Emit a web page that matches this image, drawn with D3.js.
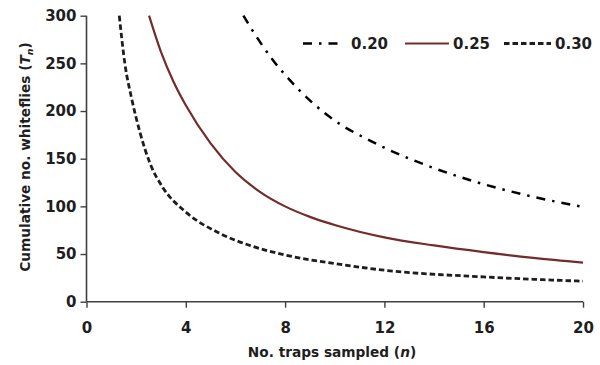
<!DOCTYPE html>
<html><head><meta charset="utf-8">
<script src="https://cdn.jsdelivr.net/npm/d3@7"></script>
<style>
body{margin:0;background:#fff;}
text{font-family:"DejaVu Sans",Verdana,sans-serif;font-weight:bold;fill:#1e1e1e;}
</style></head>
<body><svg id="c" width="600" height="365"></svg>
<script>
// ---- data ----
const xTicks = [0, 4, 8, 12, 16, 20];
const yTicks = [0, 50, 100, 150, 200, 250, 300];
const seriesNames = ["0.20", "0.25", "0.30"];
const n020 = [6.32, 7.0, 7.52, 8.0, 9.13, 10, 11.5, 12, 13.7, 15.9, 18, 20];
const t020 = [300, 272, 253, 238, 208, 190, 168, 161.5, 143, 124, 110, 99.5];
const n025 = [2.52, 3.0, 3.5, 4, 5, 6, 7, 8, 9, 10, 12, 14, 16, 18, 20];
const t025 = [300, 262, 231, 206, 166, 136, 115, 100, 89, 80.5, 67.5, 59, 52, 46, 41];
const n030 = [1.32, 1.55, 1.82, 2.15, 2.56, 3.07, 4, 5.35, 6.7, 8, 10, 12, 16, 20];
const t030 = [300, 249, 213, 178, 145, 120, 94, 72, 58, 49, 40, 33, 26, 21.5];

const svg = d3.select("#c");
const x = d3.scaleLinear().domain([0, 20]).range([86.5, 583]);
const y = d3.scaleLinear().domain([0, 300]).range([301.7, 15.7]);

const axisColor = "#404040";
const gx = svg.append("g").attr("transform", `translate(0,${y(0)})`)
  .call(d3.axisBottom(x).tickValues(xTicks).tickSize(6).tickPadding(15).tickFormat(d3.format("d")));
const gy = svg.append("g").attr("transform", `translate(${x(0)},0)`)
  .call(d3.axisLeft(y).tickValues(yTicks).tickSize(6).tickPadding(4).tickFormat(d3.format("d")));
[gx, gy].forEach(g => {
  g.select(".domain").attr("stroke", axisColor).attr("stroke-width", 1.6);
  g.selectAll(".tick line").attr("stroke", axisColor).attr("stroke-width", 1.4);
  g.selectAll(".tick text").attr("font-size", 15).attr("font-family", "DejaVu Sans").attr("font-weight", "bold").attr("fill", "#1e1e1e");
});
gx.select(".domain").attr("d", `M${x(0)},0H${x(20)}`);
gy.select(".domain").attr("d", `M0,${y(0)}V${y(300)}`);

const line = d3.line().x(d => x(d[0])).y(d => y(d[1])).curve(d3.curveMonotoneX);
const styles = {
  "0.20": {stroke: "#000", width: 2.5, dash: "9,7,2.5,7"},
  "0.25": {stroke: "#742c2a", width: 2.2, dash: null},
  "0.30": {stroke: "#1a1f1a", width: 2.8, dash: "5.5,3"}
};
const data = {
  "0.20": d3.zip(n020, t020),
  "0.25": d3.zip(n025, t025),
  "0.30": d3.zip(n030, t030)
};
seriesNames.forEach(k => {
  const s = styles[k];
  svg.append("path").datum(data[k]).attr("d", line).attr("fill", "none")
    .attr("stroke", s.stroke).attr("stroke-width", s.width)
    .attr("stroke-dasharray", s.dash);
});

// legend
const legendPos = [{x1: 303, x2: 343, tx: 351}, {x1: 405, x2: 449, tx: 453}, {x1: 504, x2: 551, tx: 555}];
seriesNames.forEach((k, i) => {
  const s = styles[k], p = legendPos[i];
  svg.append("line").attr("x1", p.x1).attr("x2", p.x2).attr("y1", 43.5).attr("y2", 43.5)
    .attr("stroke", s.stroke).attr("stroke-width", s.width).attr("stroke-dasharray", s.dash);
  svg.append("text").attr("x", p.tx).attr("y", 49).attr("font-size", 15).text(k);
});

// axis titles
const xt = svg.append("text").attr("x", 332).attr("y", 357).attr("text-anchor", "middle").attr("font-size", 13.7);
xt.append("tspan").text("No. traps sampled (");
xt.append("tspan").attr("font-style", "italic").text("n");
xt.append("tspan").text(")");

const yt = svg.append("text").attr("transform", "translate(30,157) rotate(-90)").attr("text-anchor", "middle").attr("font-size", 13.7);
yt.append("tspan").text("Cumulative no. whiteflies (");
yt.append("tspan").attr("font-style", "italic").text("T");
yt.append("tspan").attr("font-style", "italic").attr("font-size", 9.5).attr("dy", 3).text("n");
yt.append("tspan").attr("dy", -3).text(")");
</script></body></html>
